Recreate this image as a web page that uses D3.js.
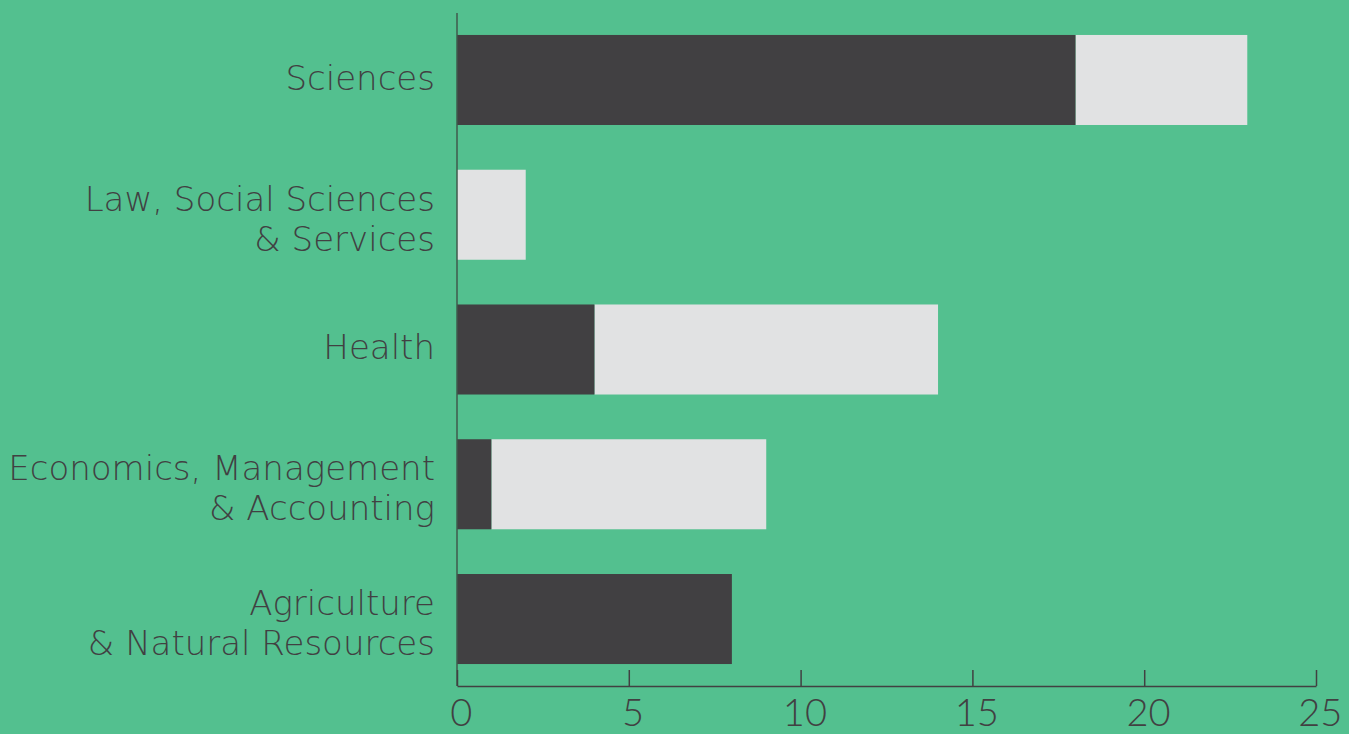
<!DOCTYPE html>
<html>
<head>
<meta charset="utf-8">
<script src="https://cdn.jsdelivr.net/npm/d3@7"></script>
<style>
  body { margin: 0; background: #53c08f; }
  svg { display: block; }
  .cat text { font-family: "DejaVu Sans", sans-serif; font-weight: 200; fill: #414042; }
</style>
</head>
<body>
<svg id="chart" width="1349" height="734"></svg>
<script>
var categories = [
  ["Sciences"],
  ["Law, Social Sciences", "& Services"],
  ["Health"],
  ["Economics, Management", "& Accounting"],
  ["Agriculture", "& Natural Resources"]
];
var darkValues = [18, 0, 4, 1, 8];
var lightValues = [5, 2, 10, 8, 0];
var xTicks = [0, 5, 10, 15, 20, 25];

var svg = d3.select("#chart"),
    width = +svg.attr("width"),
    height = +svg.attr("height");

var plotLeft = 457, plotRight = 1316, plotTop = 13, plotBottom = 686;

var x = d3.scaleLinear().domain([0, 25]).range([plotLeft, plotRight]);
var y = d3.scaleBand()
    .domain(d3.range(categories.length))
    .range([plotTop, plotBottom])
    .paddingInner(0.332)
    .paddingOuter(0.163);

var rows = categories.map(function(c, i) {
  return { i: i, label: c, dark: darkValues[i], light: lightValues[i] };
});

// light part stacked after the dark part
svg.append("g").selectAll("rect")
    .data(rows)
  .enter().append("rect")
    .attr("x", function(d) { return x(d.dark); })
    .attr("y", function(d) { return y(d.i); })
    .attr("width", function(d) { return x(d.dark + d.light) - x(d.dark); })
    .attr("height", y.bandwidth())
    .attr("fill", "#e1e2e3");

svg.append("g").selectAll("rect")
    .data(rows)
  .enter().append("rect")
    .attr("x", x(0))
    .attr("y", function(d) { return y(d.i); })
    .attr("width", function(d) { return x(d.dark) - x(0); })
    .attr("height", y.bandwidth())
    .attr("fill", "#414042");

// vertical axis line
svg.append("line")
    .attr("x1", plotLeft).attr("x2", plotLeft)
    .attr("y1", plotTop).attr("y2", plotBottom)
    .attr("stroke", "#3f5a4c")
    .attr("stroke-width", 1.5);

// bottom axis, ticks pointing up
var xAxis = svg.append("g")
    .attr("transform", "translate(0," + plotBottom + ")")
    .call(d3.axisBottom(x).tickValues(xTicks).tickSizeInner(-16).tickSizeOuter(0).tickPadding(13));
xAxis.select(".domain").attr("stroke", "#414042").attr("stroke-width", 1.5);
xAxis.selectAll(".tick line").attr("stroke", "#414042").attr("stroke-width", 1.5);
xAxis.selectAll(".tick text")
    .attr("fill", "#414042")
    .attr("dx", "0.1em")
    .style("font-family", "Lato, 'Open Sans', sans-serif")
    .style("font-weight", 300)
    .style("font-size", "38px");

// category labels
var cat = svg.append("g").attr("class", "cat");
rows.forEach(function(d) {
  var cy = y(d.i) + y.bandwidth() / 2;
  var n = d.label.length;
  var t = cat.append("text")
      .attr("text-anchor", "end")
      .style("font-size", "34px");
  d.label.forEach(function(line, k) {
    t.append("tspan")
        .attr("x", 435)
        .attr("y", cy + (k - (n - 1) / 2) * 40 + (n > 1 ? 4 : -2))
        .attr("dy", "0.35em")
        .text(line);
  });
});
</script>
</body>
</html>
